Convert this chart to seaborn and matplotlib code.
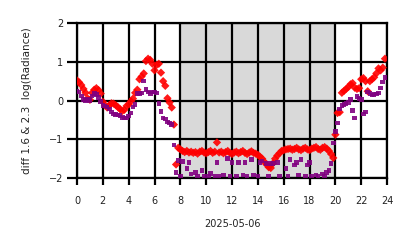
import numpy as np
import pandas as pd
import matplotlib
matplotlib.use("Agg")
import matplotlib.pyplot as plt
import seaborn as sns

# 10-minute samples over the day (hours)
hours = [i / 6 for i in range(144)]

diff_16 = [
    0.52, 0.47, 0.40, 0.30, 0.20, 0.05,
    0.02, 0.20, 0.28, 0.32, 0.27, 0.18,
    -0.03, -0.12, -0.18, -0.12, -0.07, -0.08,
    -0.12, -0.17, -0.22, -0.27, -0.24, -0.14,
    -0.10, -0.02, 0.05, 0.20, 0.28, 0.55,
    0.62, 0.70, 1.02, 1.08, 1.05, 0.95,
    0.78, 0.92, 0.95, 0.72, 0.50, 0.38,
    0.06, -0.05, -0.18, -0.62, -1.65, -1.22,
    -1.26, -1.30, -1.33, -1.30, -1.34, -1.32,
    -1.35, -1.33, -1.37, -1.32, -1.30, -1.34,
    -1.36, -1.33, -1.30, -1.35, -1.32, -1.08,
    -1.34, -1.32, -1.36, -1.33, -1.30, -1.35,
    -1.38, -1.34, -1.32, -1.36, -1.33, -1.30,
    -1.35, -1.38, -1.34, -1.31, -1.35, -1.37,
    -1.40, -1.45, -1.50, -1.58, -1.65, -1.72,
    -1.74, -1.62, -1.50, -1.42, -1.36, -1.30,
    -1.28, -1.26, -1.25, -1.24, -1.27, -1.25,
    -1.22, -1.26, -1.28, -1.24, -1.22, -1.26,
    -1.28, -1.24, -1.22, -1.20, -1.25, -1.27,
    -1.22, -1.20, -1.24, -1.30, -1.38, -1.48,
    -0.88, -0.32, -0.30, 0.20, 0.25, 0.30,
    0.35, 0.42, 0.45, 0.33, 0.30, 0.32,
    0.55, 0.58, 0.50, 0.24, 0.50, 0.55,
    0.60, 0.70, 0.83, 0.78, 0.85, 1.08,
]

diff_23 = [
    0.25, 0.22, 0.12, 0.03, 0.00, 0.02,
    0.00, 0.12, 0.19, 0.15, 0.08, -0.02,
    -0.12, -0.14, -0.17, -0.22, -0.30, -0.35,
    -0.36, -0.37, -0.38, -0.43, -0.45, -0.45,
    -0.40, -0.32, -0.17, -0.10, 0.18, 0.18,
    0.20, 0.50, 0.28, 0.22, 0.18, 0.22,
    0.22, 0.20, -0.07, -0.28, -0.45, -0.48,
    -0.55, -0.58, -0.62, -1.15, -1.85, -1.55,
    -1.95, -1.58, -2.30, -1.75, -1.60, -1.90,
    -2.30, -1.85, -1.95, -2.30, -1.80, -1.95,
    -2.30, -1.95, -1.88, -2.30, -1.95, -1.60,
    -1.95, -2.30, -1.92, -2.30, -1.50, -1.95,
    -1.60, -2.30, -1.95, -1.60, -2.30, -1.92,
    -1.60, -1.95, -2.30, -1.52, -1.92, -2.30,
    -1.95, -1.60, -1.56, -2.30, -1.62, -1.95,
    -1.62, -1.62, -2.30, -1.60, -1.95, -2.30,
    -2.30, -1.75, -1.95, -1.52, -2.30, -1.66,
    -1.60, -1.92, -1.52, -2.30, -1.95, -1.66,
    -1.60, -1.95, -2.30, -1.92, -1.95, -2.30,
    -1.90, -1.95, -1.85, -1.80, -1.62, -1.10,
    -0.80, -0.58, -0.22, -0.12, -0.10, -0.07,
    -0.05, 0.02, -0.25, -0.45, 0.10, 0.05,
    0.03, -0.35, -0.30, 0.22, 0.18, 0.14,
    0.16, 0.17, 0.20, 0.32, 0.48, 0.60,
]

night_start, night_end = 8, 20
x_ticks = list(range(0, 25, 2))
y_ticks = [-2, -1, 0, 1, 2]

df = pd.DataFrame({"hour": hours, "d16": diff_16, "d23": diff_23})

sns.set_theme(style="white")
plt.rcParams["font.family"] = ["DejaVu Sans"]

fig = plt.figure(figsize=(4.14, 2.48), dpi=100)
ax = fig.add_axes([0.186, 0.282, 0.749, 0.625])

ax.axvspan(night_start, night_end, color="#d9d9d9", zorder=0, lw=0)

sns.scatterplot(data=df, x="hour", y="d16", ax=ax, marker="D", s=18,
                color="red", edgecolor="none", alpha=0.9, zorder=3, legend=False)
sns.scatterplot(data=df, x="hour", y="d23", ax=ax, marker="s", s=11,
                color="purple", edgecolor="none", alpha=0.9, zorder=4, legend=False)

ax.set_xlim(0, 24)
ax.set_ylim(-2, 2)
ax.set_xticks(x_ticks)
ax.set_yticks(y_ticks)
ax.set_yticklabels(["\u22122", "\u22121", "0", "1", "2"])
ax.grid(True, color="black", linewidth=1.6, zorder=2)
ax.set_axisbelow(False)
for sp in ax.spines.values():
    sp.set_visible(True)
    sp.set_color("black")
    sp.set_linewidth(1.6)

ax.tick_params(axis="x", length=5, width=1.6, color="black", pad=8,
               labelsize=7, labelcolor="#222222", bottom=True)
ax.tick_params(axis="y", length=7, width=1.6, color="black", pad=3,
               labelsize=7, labelcolor="#222222", left=True)

ax.set_xlabel("2025-05-06", fontsize=7, color="#222222", labelpad=9)
ax.set_ylabel("diff 1.6 & 2.3  log(Radiance)", fontsize=7.5, color="#222222", labelpad=12)

fig.savefig("out.png", dpi=100)
